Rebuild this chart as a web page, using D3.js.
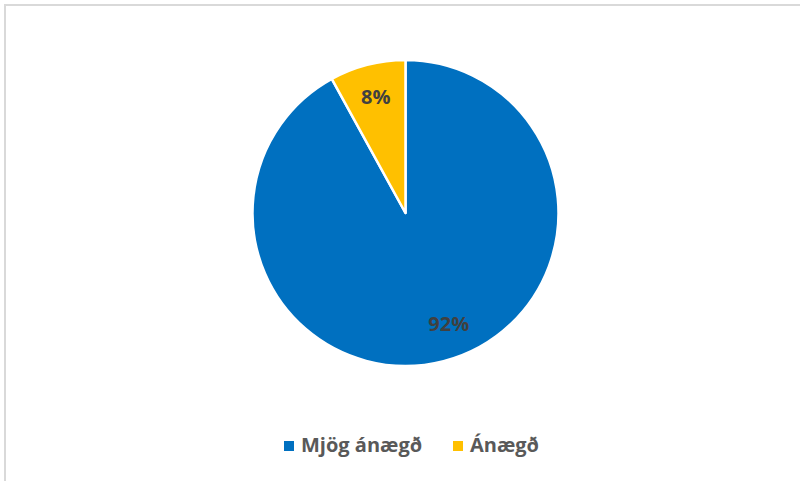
<!DOCTYPE html>
<html>
<head>
<meta charset="utf-8">
<script src="https://cdn.jsdelivr.net/npm/d3@7"></script>
<style>
    body { margin: 0; background: #fff; }
    svg { display: block; }
</style>
</head>
<body>
<svg id="chart" width="800" height="481"></svg>
<script>
const categories = ['Mjög ánægð', 'Ánægð'];
const values = [92, 8];
const valueLabels = ['92%', '8%'];
const colors = ['#0070c0', '#ffc000'];

const width = 800;
const height = 481;
const cx = 405.5;
const cy = 213;
const radius = 153;
// excel puts the big slice's label a bit off its middle angle
const labelAngleShift = [-0.12, 0];

const svg = d3.select('#chart');

svg.append('rect')
    .attr('x', 5)
    .attr('y', 5)
    .attr('width', width + 20)
    .attr('height', height + 20)
    .attr('fill', '#fff')
    .attr('stroke', '#d9d9d9')
    .attr('stroke-width', 2);

const pie = d3.pie()
    .sort(null)
    .value(d => d.value);

const data = pie(categories.map((c, i) => ({ name: c, value: values[i], label: valueLabels[i], color: colors[i] })));

const arc = d3.arc()
    .innerRadius(0)
    .outerRadius(radius);

const labelPos = (d, i) => {
    const a = (d.startAngle + d.endAngle) / 2 + labelAngleShift[i];
    const r = radius * 0.78;
    return [Math.sin(a) * r, -Math.cos(a) * r];
};

const g = svg.append('g')
    .attr('transform', `translate(${cx},${cy})`);

g.selectAll('path')
    .data(data)
    .enter()
    .append('path')
    .attr('d', arc)
    .attr('fill', d => d.data.color)
    .attr('stroke', '#fff')
    .attr('stroke-width', 2.5)
    .attr('stroke-linejoin', 'round');

g.selectAll('text')
    .data(data)
    .enter()
    .append('text')
    .attr('transform', (d, i) => `translate(${labelPos(d, i)})`)
    .attr('text-anchor', 'middle')
    .attr('dy', '0.35em')
    .attr('font-family', 'Open Sans, sans-serif')
    .attr('font-weight', 'bold')
    .attr('font-size', 20)
    .attr('fill', '#404040')
    .text(d => d.data.label);

// legend
const legend = svg.append('g')
    .attr('font-family', 'Open Sans, sans-serif')
    .attr('font-weight', 'bold')
    .attr('font-size', 20)
    .attr('fill', '#595959');

const legendX = d3.scaleOrdinal()
    .domain(categories)
    .range([284, 453]);

const items = legend.selectAll('g')
    .data(categories)
    .enter()
    .append('g')
    .attr('transform', d => `translate(${legendX(d)},441)`);

items.append('rect')
    .attr('width', 10)
    .attr('height', 10)
    .attr('fill', (d, i) => colors[i]);

items.append('text')
    .attr('x', 17)
    .attr('y', 11)
    .text(d => d);
</script>
</body>
</html>
